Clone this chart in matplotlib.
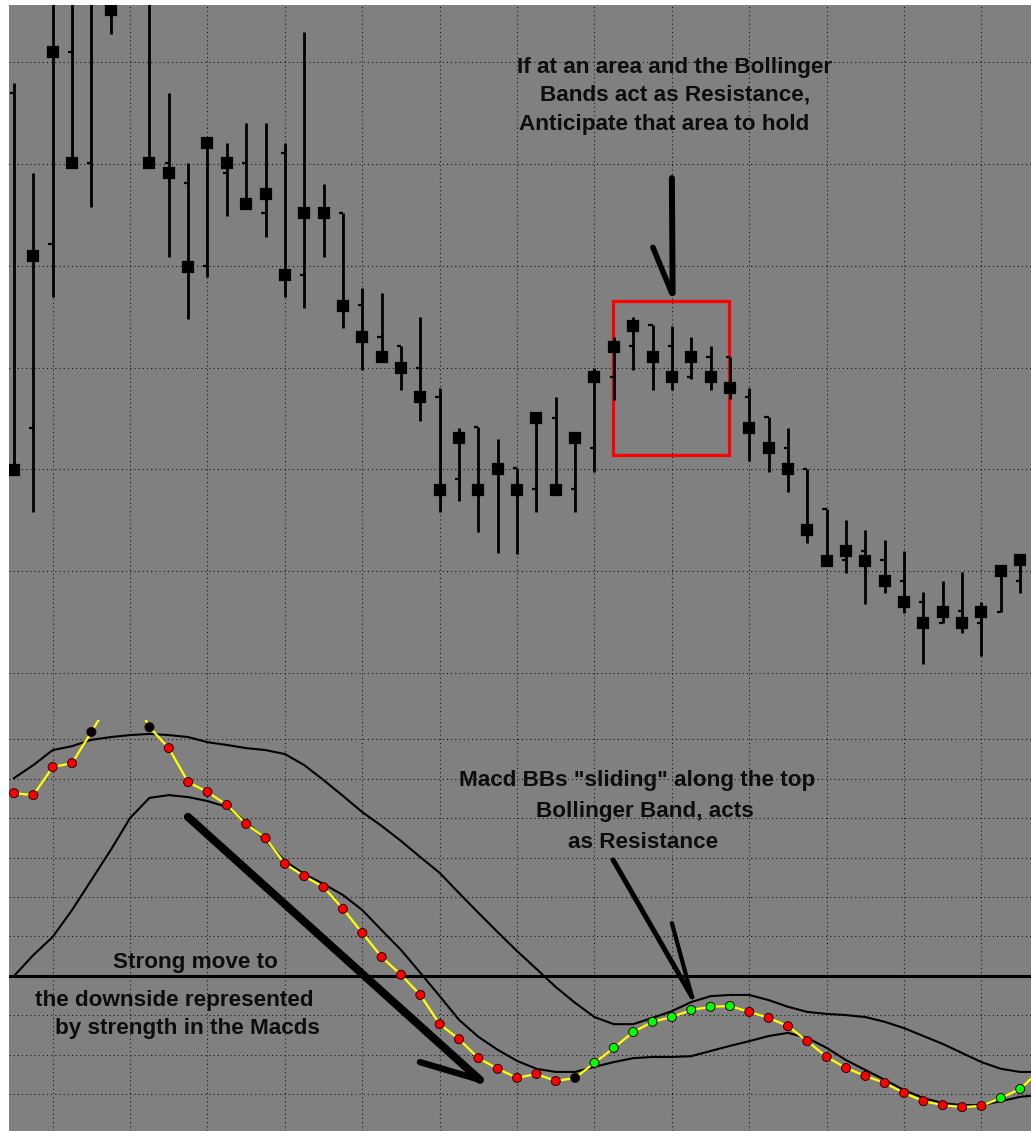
import numpy as np
import matplotlib
matplotlib.use("Agg")
import matplotlib.pyplot as plt
from matplotlib.patches import Rectangle

# ---------------- data (price units: grid every 10) ----------------
bar_high = [67.9, 59.1, 77.0, 79.0, 80.0, 77.5, np.nan, 78.0, 67.0, 60.1,
            62.3, 62.0, 64.0, 64.0, 62.0, 72.9, 58.0, 55.2, 47.8, 47.3,
            42.1, 45.0, 38.0, 34.1, 34.2, 33.0, 30.1, 35.0, 37.1, 33.1,
            40.0, 43.0, 45.0, 44.2, 44.1, 43.0, 42.1, 41.0, 38.0, 35.1,
            34.1, 30.0, 26.1, 25.0, 24.0, 23.1, 22.0, 18.0, 19.0, 19.9,
            17.0, 20.0, 21.1]
bar_low = [29.6, 25.8, 46.9, 59.9, 55.8, 72.8, np.nan, 59.9, 50.9, 44.8,
           48.9, 54.9, 55.9, 52.8, 46.9, 45.8, 50.9, 43.9, 39.8, 40.8,
           37.8, 34.7, 25.8, 26.9, 23.8, 21.8, 21.7, 25.8, 28.0, 25.8,
           29.7, 36.8, 39.8, 37.8, 37.8, 38.9, 37.8, 36.9, 30.8, 29.7,
           27.8, 22.8, 21.0, 19.8, 16.8, 17.9, 15.9, 10.9, 14.9, 13.9,
           11.7, 16.0, 17.9]
bar_open = [67.0, 34.1, 52.1, 71.0, 60.1, 76.5, np.nan, 77.0, 60.1, 58.1,
            50.0, 59.1, 60.1, 55.2, 61.1, 49.1, 55.2, 55.2, 46.1, 43.0,
            42.1, 40.0, 37.1, 29.1, 34.2, 30.0, 30.1, 28.1, 35.0, 28.1,
            32.1, 39.1, 42.1, 44.2, 42.1, 39.1, 41.0, 41.0, 37.1, 35.1,
            32.1, 30.0, 26.1, 21.1, 22.0, 21.1, 19.0, 17.0, 14.9, 16.1,
            14.9, 16.0, 19.0]
bar_close = [29.9, 51.0, 71.0, 60.1, 77.0, 75.1, np.nan, 60.1, 59.1, 49.9,
             62.0, 60.1, 56.1, 57.0, 49.1, 55.2, 55.2, 46.0, 43.0, 41.0,
             40.0, 37.1, 28.0, 33.1, 28.0, 30.0, 28.0, 35.0, 28.0, 33.1,
             39.1, 42.0, 44.1, 41.0, 39.1, 41.0, 39.1, 38.0, 34.1, 32.1,
             30.0, 24.0, 21.0, 22.0, 21.0, 19.0, 17.0, 14.9, 16.0, 14.9,
             16.0, 20.0, 21.1]

# ---------------- MACD panel (grid every 10) ----------------
macd = [46.3, 45.8, 52.9, 53.9, 61.8, 69.9, 72.4, 63.0, 57.7, 49.1,
        46.6, 43.3, 38.5, 34.9, 28.4, 25.3, 22.5, 17.0, 10.9, 4.8,
        0.3, -4.8, -12.2, -16.0, -20.8, -23.5, -25.8, -24.8, -26.6, -25.8,
        -22.0, -18.2, -14.2, -11.6, -10.4, -8.6, -7.8, -7.6, -9.1, -10.6,
        -12.7, -16.5, -20.5, -23.3, -25.3, -27.1, -29.6, -31.7, -32.7, -33.2,
        -32.9, -30.9, -28.6, -24.0]
# 1 = rising (green), -1 = falling (red), 0 = neutral (black)
macd_state = [-1, -1, -1, -1, 0, 0, 0, 0, -1, -1,
              -1, -1, -1, -1, -1, -1, -1, -1, -1, -1,
              -1, -1, -1, -1, -1, -1, -1, -1, -1, 0,
              1, 1, 1, 1, 1, 1, 1, 1, -1, -1,
              -1, -1, -1, -1, -1, -1, -1, -1, -1, -1,
              -1, 1, 1, 1]
bb_upper = [50.1, 53.4, 57.2, 58.2, 59.8, 60.5, 61.0, 61.3, 61.0, 60.5,
            59.2, 58.5, 57.7, 57.2, 56.2, 53.4, 49.6, 45.6, 41.5, 38.0,
            34.2, 30.1, 26.1, 21.0, 16.0, 11.1, 6.3, 1.8, -2.8, -6.8,
            -10.4, -12.2, -12.2, -10.6, -8.9, -6.6, -5.1, -4.8, -4.8, -6.1,
            -7.8, -9.1, -9.6, -9.9, -10.4, -11.6, -13.2, -15.2, -17.2, -19.5,
            -21.8, -23.5, -24.3, -24.3]
bb_lower = [0.0, 5.3, 9.9, 16.7, 24.3, 31.9, 40.0, 45.1, 45.8, 45.3,
            44.3, 42.8, 39.0, 34.4, 29.1, 25.8, 23.3, 20.5, 16.7, 11.6,
            6.6, 0.8, -5.1, -11.1, -15.4, -18.7, -21.5, -23.5, -24.3, -24.3,
            -23.0, -21.8, -20.8, -20.5, -20.5, -20.3, -19.0, -17.7, -16.5, -15.2,
            -14.4, -15.7, -18.2, -21.3, -23.8, -26.3, -28.9, -30.9, -32.2, -32.7,
            -32.7, -31.7, -30.6, -30.1]

top_note = ["If at an area and the Bollinger", "Bands act as Resistance,",
            "Anticipate that area to hold"]
left_note = ["Strong move to", "the downside represented", "by strength in the Macds"]
right_note = ['Macd BBs "sliding" along the top', "Bollinger Band, acts", "as Resistance"]

# ---------------- figure ----------------
W, H = 1031, 1131
fig = plt.figure(figsize=(W / 100, H / 100), dpi=100, facecolor="white")


def frac_rect(x0, y0, x1, y1):
    return [x0 / W, 1 - y1 / H, (x1 - x0) / W, (y1 - y0) / H]


GRAY = "#808080"
ax_top = fig.add_axes(frac_rect(9, 5, 1031, 720))
ax_bot = fig.add_axes(frac_rect(9, 720, 1031, 1131), sharex=ax_top)

for ax in (ax_top, ax_bot):
    ax.set_facecolor(GRAY)
    for s in ax.spines.values():
        s.set_visible(False)
    ax.tick_params(length=0, labelbottom=False, labelleft=False)
    ax.set_axisbelow(True)
    ax.grid(True, color="#111111", lw=0.75, ls=(0, (1, 3)))

n_bars = len(bar_close)
idx = np.arange(n_bars)
ax_top.set_xlim(-0.258, 52.56)
ax_top.set_xticks(np.arange(2, n_bars, 4))
ax_top.set_ylim(5.385, 75.6)
ax_top.set_yticks(np.arange(10, 71, 10))
ax_bot.set_ylim(-39.25, 64.82)
ax_bot.set_yticks(np.arange(-30, 61, 10))

# ---------------- price bars ----------------
hi = np.array(bar_high); lo = np.array(bar_low)
op = np.array(bar_open); cl = np.array(bar_close)
ok = ~np.isnan(cl)
ax_top.vlines(idx[ok], lo[ok], hi[ok], color="black", lw=2.0, zorder=4)
ax_top.hlines(op[ok], idx[ok] - 0.22, idx[ok], color="black", lw=1.6, zorder=4)
close_line, = ax_top.plot(idx[ok], cl[ok], ls="none", marker="s", ms=6.6,
                          mfc="black", mec="black", mew=1.6, zorder=5)
close_line.set_solid_joinstyle("round")

# red box around the resistance area
ax_top.add_patch(Rectangle((30.95, 31.4), 6.0, 15.1, fill=False,
                           edgecolor="#ff0000", lw=2.3, zorder=3))

# top arrow
ax_top.plot([34.0, 34.04], [58.6, 47.3], color="black", lw=4.3,
            solid_capstyle="round", zorder=6)
ax_top.plot([33.02, 34.0], [51.8, 47.3], color="black", lw=4.0,
            solid_capstyle="round", zorder=6)

fkw = dict(family=["Liberation Sans Narrow", "Liberation Sans", "DejaVu Sans"],
           weight="bold", fontsize=16.2, color="#0d0d0d", ha="center",
           va="baseline", zorder=7)
for txt, xc, yb in zip(top_note, [34.15, 34.15, 33.6], [68.95, 66.2, 63.3]):
    ax_top.text(xc, yb, txt, **fkw)

# ---------------- MACD panel ----------------
midx = np.arange(len(macd))
ax_bot.axhline(0, color="black", lw=2.2, zorder=3)
ax_bot.plot(midx, bb_upper, color="black", lw=1.5, zorder=4)
ax_bot.plot(midx, bb_lower, color="black", lw=1.5, zorder=4)
ax_bot.plot(midx, macd, color="#ffff00", lw=1.6, zorder=5)
state_colors = {1: "#00ff00", -1: "#ff0000", 0: "#000000"}
cols = [state_colors[s] for s in macd_state]
ax_bot.scatter(midx, macd, s=42, c=cols, edgecolors="#2a0000",
               linewidths=0.7, zorder=6)

# arrows in the MACD panel
ax_bot.plot([8.99, 24.08], [40.3, -26.3], color="black", lw=5.8,
            solid_capstyle="round", zorder=7)
ax_bot.plot([20.98, 24.08], [-21.8, -26.3], color="black", lw=4.6,
            solid_capstyle="round", zorder=7)
ax_bot.plot([30.96, 35.04], [29.4, -5.3], color="black", lw=3.6,
            solid_capstyle="round", zorder=7)
ax_bot.plot([34.0, 35.04], [13.4, -5.3], color="black", lw=3.0,
            solid_capstyle="round", zorder=7)

for txt, xc, yb in zip(left_note, [9.38, 8.27, 8.97], [1.9, -7.6, -14.8]):
    ax_bot.text(xc, yb, txt, **fkw)
for txt, xc, yb in zip(right_note, [32.2, 32.6, 32.5], [48.1, 40.3, 32.5]):
    ax_bot.text(xc, yb, txt, **fkw)

fig.savefig("out.png", dpi=100, facecolor="white")
